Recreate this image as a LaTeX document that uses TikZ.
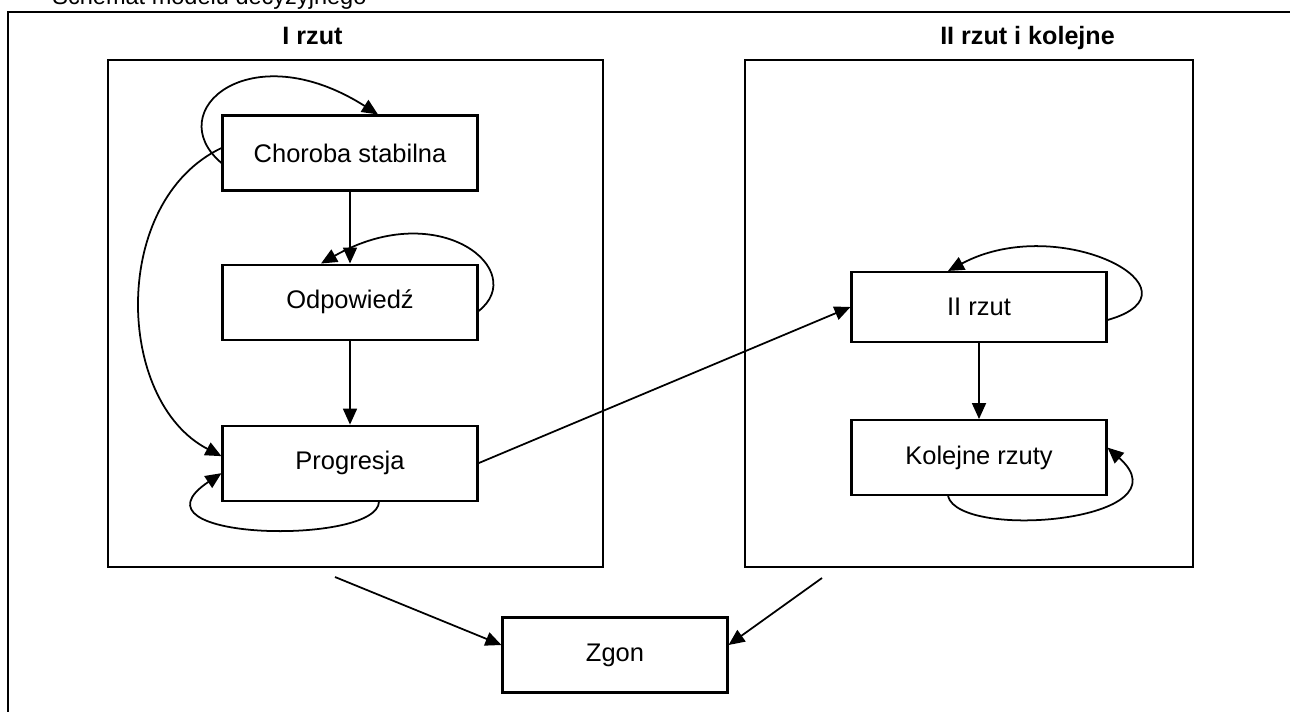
\documentclass[tikz,border=0pt]{standalone}
\usepackage{fontspec}
\setmainfont{Liberation Sans}
\usepackage{tikz}
\usetikzlibrary{positioning, arrows.meta}
\tikzstyle{stan} = [rectangle, minimum width=5.1cm, minimum height=1.5cm, text centered, draw=black, line width=1.2pt]
\tikzstyle{ramka} = [rectangle, draw=black, line width=1.2pt]
\tikzstyle{naglowek} = [anchor=base, font=\fontsize{14.3}{16}\selectfont\bfseries]
\tikzstyle{strzalka} = [line width=1pt, -{Triangle[length=3.2mm,width=2.8mm]}]

\begin{document}
\begin{tikzpicture}[x=0.02cm, y=0.02cm, font=\fontsize{14.5}{17}\selectfont]
    \useasboundingbox (0,0) rectangle (1290,711);
    \draw [line width=1.2pt] (8,-20) rectangle (1320,699);
    \node (Tytul) [anchor=base west, inner xsep=0pt, font=\fontsize{13.4}{15}\selectfont] at (52,706) {Schemat modelu decyzyjnego};
    \node (PierwszyRzut) [ramka, minimum width=9.9cm, minimum height=10.14cm] at (355.5,397.5) {};
    \node (KolejnyRzut) [ramka, minimum width=8.96cm, minimum height=10.14cm] at (969,397.5) {};
    \node (PierwszyTytul) [naglowek] at (312.5,666) {I rzut};
    \node (KolejnyTytul) [naglowek] at (1027.5,666) {II rzut i kolejne};
    \node (Choroba) [stan] at (350,558) {Choroba stabilna};
    \node (Odpowiedz) [stan, below=1.44cm of Choroba] {Odpowiedź};
    \node (Progresja) [stan, below=1.68cm of Odpowiedz] {Progresja};
    \node (DrugiRzut) [stan, minimum height=1.4cm] at (979,404) {II rzut};
    \node (KolejneRzuty) [stan, below=1.52cm of DrugiRzut] {Kolejne rzuty};
    \node (Zgon) [stan, minimum width=4.5cm] at (615,56) {Zgon};
    \coordinate (zLewej) at (335,134);
    \coordinate (zPrawej) at (822,133);
    \draw [strzalka] (Choroba) -- (Odpowiedz);
    \draw [strzalka] (Odpowiedz) -- (Progresja);
    \draw [strzalka] (DrugiRzut) -- (KolejneRzuty);
    \draw [strzalka] (Progresja.east) -- (DrugiRzut.west);
    \draw [strzalka] (zLewej) -- ([yshift=0.2cm]Zgon.west);
    \draw [strzalka] (zPrawej) -- ([yshift=0.2cm]Zgon.east);
    % petle
    \draw [strzalka] ([yshift=-0.2cm]Choroba.west) .. controls (160,600) and (250,678) .. ([xshift=0.56cm]Choroba.north);
    \draw [strzalka] ([yshift=0.1cm]Choroba.west) .. controls (110,510) and (115,310) .. ([yshift=0.14cm]Progresja.west);
    \draw [strzalka] ([yshift=-0.18cm]Odpowiedz.east) .. controls (530,440) and (440,515) .. ([xshift=-0.58cm]Odpowiedz.north);
    \draw [strzalka] ([xshift=0.58cm]Progresja.south) .. controls (378,165) and (120,170) .. ([yshift=-0.2cm]Progresja.west);
    \draw [strzalka] ([yshift=-0.26cm]DrugiRzut.east) .. controls (1210,420) and (1060,500) .. ([xshift=-0.62cm]DrugiRzut.north);
    \draw [strzalka] ([xshift=-0.62cm]KolejneRzuty.south) .. controls (960,170) and (1190,190) .. ([yshift=0.2cm]KolejneRzuty.east);
\end{tikzpicture}
\end{document}
